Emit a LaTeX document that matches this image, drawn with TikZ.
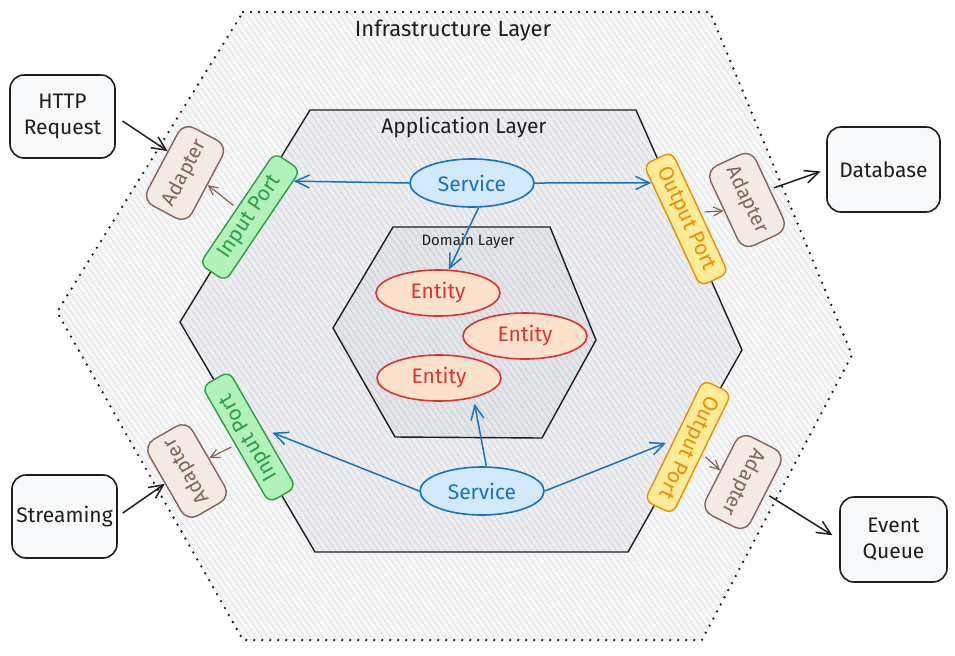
\documentclass[tikz,border=0pt]{standalone}
\usepackage{fontspec}
\setmainfont{Fira Sans}
\usetikzlibrary{arrows.meta,calc,shapes.geometric,patterns.meta}
\definecolor{ink}{HTML}{1E1E1E}
\definecolor{svcS}{HTML}{1971C2}
\definecolor{svcF}{HTML}{D3EAFD}
\definecolor{entS}{HTML}{E03131}
\definecolor{entF}{HTML}{FCE2CC}
\definecolor{inS}{HTML}{2F9E44}
\definecolor{inF}{HTML}{B2F2BB}
\definecolor{outS}{HTML}{F08C00}
\definecolor{outF}{HTML}{FFEC99}
\definecolor{adS}{HTML}{846358}
\definecolor{adF}{HTML}{F4EBE7}
\definecolor{boxF}{HTML}{F8F9FA}
\definecolor{infF}{HTML}{F6F7F8}
\definecolor{appF}{HTML}{ECEEF1}
\definecolor{domF}{HTML}{E2E5E9}
\begin{document}
\begin{tikzpicture}[x=0.5pt,y=-0.5pt,
  lbl/.style={font=\fontsize{11}{13}\selectfont, text=ink, inner sep=1pt},
  ext/.style={draw=ink, fill=boxF, rounded corners=7pt, line width=0.8pt, align=center,
    font=\fontsize{10.5}{13}\selectfont, text=ink, inner sep=1pt},
  svc/.style={ellipse, draw=svcS, fill=svcF, line width=0.8pt, text=svcS, inner sep=0pt,
    minimum width=62pt, minimum height=24pt, font=\fontsize{10.5}{12}\selectfont},
  ent/.style={ellipse, draw=entS, fill=entF, line width=0.8pt, text=entS, inner sep=0pt,
    minimum width=62pt, minimum height=23pt, font=\fontsize{10.5}{12}\selectfont},
  inport/.style={draw=inS, fill=inF, text=inS, rounded corners=4pt, line width=0.7pt,
    minimum width=67pt, minimum height=15.5pt, inner sep=0pt, font=\fontsize{10.5}{12}\selectfont},
  outport/.style={draw=outS, fill=outF, text=outS, rounded corners=4pt, line width=0.7pt,
    minimum width=67pt, minimum height=15.5pt, inner sep=0pt, font=\fontsize{10.5}{12}\selectfont},
  adapter/.style={draw=adS, fill=adF, text=adS, rounded corners=6pt, line width=0.7pt,
    minimum width=44pt, minimum height=25pt, inner sep=0pt, font=\fontsize{10}{12}\selectfont},
  conn/.style={draw=ink, line width=0.75pt, -{Straight Barb[length=7pt,width=6.5pt]}},
  blueconn/.style={draw=svcS, line width=0.75pt, -{Straight Barb[length=7pt,width=6.5pt]}},
  brownconn/.style={draw=adS, line width=0.6pt, -{Straight Barb[length=4.5pt,width=4.5pt]}},
  hatch/.style={pattern={Lines[angle=-55,distance=2.5pt,line width=0.25pt]}, pattern color=#1}
]
\useasboundingbox (0,0) rectangle (955,655);

% hexagon corners
\coordinate (o1) at (243,12);  \coordinate (o2) at (710,12);  \coordinate (o3) at (852,355);
\coordinate (o4) at (702,640); \coordinate (o5) at (243,640); \coordinate (o6) at (57,312);
\coordinate (a1) at (310,110); \coordinate (a2) at (636,110); \coordinate (a3) at (742,350);
\coordinate (a4) at (628,552); \coordinate (a5) at (315,552); \coordinate (a6) at (180,322);
\coordinate (d1) at (393,227); \coordinate (d2) at (550,227); \coordinate (d3) at (596,340);
\coordinate (d4) at (542,438); \coordinate (d5) at (395,437); \coordinate (d6) at (333,328);

% infrastructure layer
\fill[infF] (o1) -- (o2) -- (o3) -- (o4) -- (o5) -- (o6) -- cycle;
\path[hatch=gray!28] (o1) -- (o2) -- (o3) -- (o4) -- (o5) -- (o6) -- cycle;
\draw[ink, line width=1.3pt, line cap=round, dash pattern=on 0pt off 4pt]
  (o1) -- (o2) -- (o3) -- (o4) -- (o5) -- (o6) -- cycle;
% application layer
\fill[appF] (a1) -- (a2) -- (a3) -- (a4) -- (a5) -- (a6) -- cycle;
\path[hatch=gray!38] (a1) -- (a2) -- (a3) -- (a4) -- (a5) -- (a6) -- cycle;
\draw[ink, line width=0.7pt, line join=round]
  (a1) -- (a2) -- (a3) -- (a4) -- (a5) -- (a6) -- cycle;
% domain layer
\fill[domF] (d1) -- (d2) -- (d3) -- (d4) -- (d5) -- (d6) -- cycle;
\path[hatch=gray!45] (d1) -- (d2) -- (d3) -- (d4) -- (d5) -- (d6) -- cycle;
\draw[ink, line width=0.7pt, line join=round]
  (d1) -- (d2) -- (d3) -- (d4) -- (d5) -- (d6) -- cycle;

% layer labels
\node[lbl] (tinf) at (453,31) {Infrastructure Layer};
\node[lbl, font=\fontsize{10.5}{12}\selectfont] (tapp) at (464,128) {Application Layer};
\node[lbl, font=\fontsize{7.5}{9}\selectfont] (tdom) at (468,241) {Domain Layer};

% external boxes
\node[ext, minimum width=52.5pt, minimum height=41.5pt] (http) at (62.5,116.5) {HTTP\\Request};
\node[ext, minimum width=56.5pt, minimum height=42.5pt] (db) at (883.5,169.5) {Database};
\node[ext, minimum width=52.5pt, minimum height=41.5pt] (stream) at (64.5,516.5) {Streaming};
\node[ext, minimum width=53.5pt, minimum height=42.5pt] (eq) at (893.5,539.5) {Event\\Queue};

% services and entities
\node[svc] (s1) at (472,183) {Service};
\node[svc] (s2) at (482,491) {Service};
\node[ent] (e1) at (438,293) {Entity};
\node[ent] (e2) at (525,336) {Entity};
\node[ent] (e3) at (439,378) {Entity};

% ports
\node[inport, rotate=56] (ip1) at (250,217) {Input Port};
\node[inport, rotate=120] (ip2) at (249,437) {Input Port};
\node[outport, rotate=-65] (op1) at (686,219) {Output Port};
\node[outport, rotate=-116] (op2) at (688,447) {Output Port};

% adapters
\node[adapter, rotate=62] (ad1) at (185,173) {Adapter};
\node[adapter, rotate=-65] (ad2) at (747,200) {Adapter};
\node[adapter, rotate=120] (ad3) at (187,471) {Adapter};
\node[adapter, rotate=-117] (ad4) at (743,482) {Adapter};

% connectors: services
\draw[blueconn] (s1.west) -- ($(ip1.south)!0.8!(ip1.south east)$);
\draw[blueconn] (s1.east) -- ($(op1.south)!0.7!(op1.south west)$);
\draw[blueconn, shorten >=5pt] (s2.west) -- (ip2.south);
\draw[blueconn, shorten >=4pt] (s2.east) -- (op2.south);
\draw[blueconn] (s1.-75) -- (e1.65);
\draw[blueconn, shorten >=3pt] (s2.80) -- (e3.-30);

% connectors: ports to adapters
\draw[brownconn, shorten <=2pt] (ip1.north) -- (ad1.south);
\draw[brownconn, shorten <=2pt] (op1.north) -- (ad2.south);
\draw[brownconn, shorten <=2pt] (ip2.north) -- (ad3.south);
\draw[brownconn, shorten <=2pt] (op2.north) -- (ad4.south);

% connectors: external
\draw[conn, shorten <=4pt] (http.east) -- ($(ad1.north)!0.25!(ad1.north east)$);
\draw[conn, shorten <=2pt, shorten >=3pt] (ad2.north) -- (db.west);
\draw[conn, shorten <=3pt] (stream.east) -- (ad3.north);
\draw[conn, shorten <=2pt, shorten >=4pt] (ad4.north) -- (eq.west);
\end{tikzpicture}
\end{document}
